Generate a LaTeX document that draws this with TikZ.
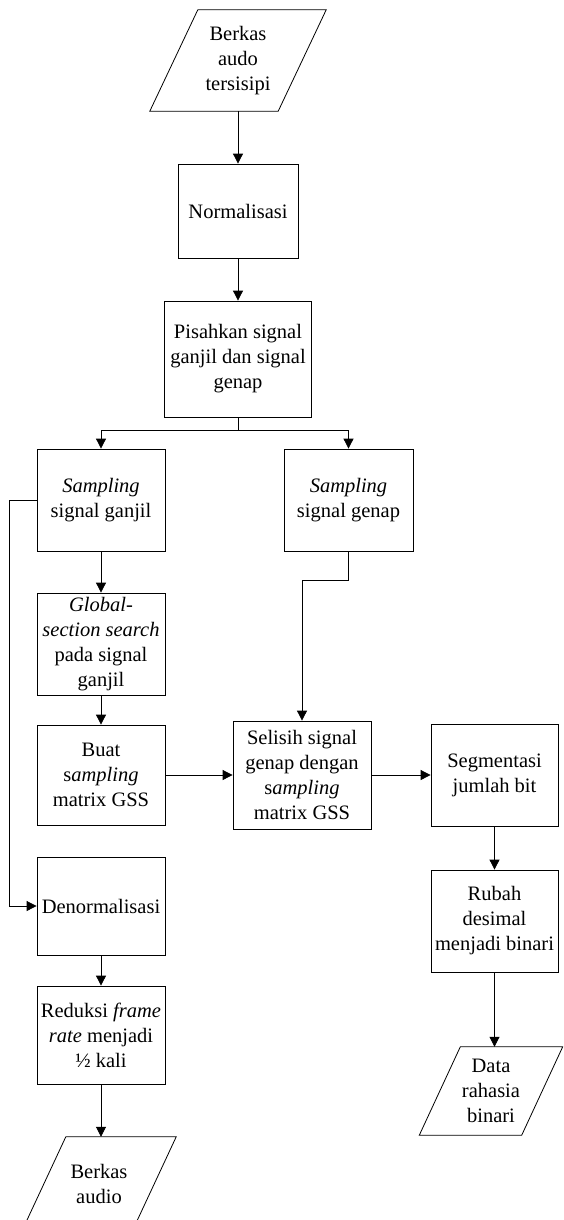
\documentclass[tikz,border=0pt]{standalone}
\usepackage{fontspec}
\setmainfont{Liberation Serif}
\usetikzlibrary{arrows.meta}
\newcommand\parashape[2]{\draw[line width=0.8pt] ([xshift=#2]#1.north west) -- ([xshift=#2]#1.north east) -- ([xshift=-#2]#1.south east) -- ([xshift=-#2]#1.south west) -- cycle;}
\begin{document}
\begin{tikzpicture}[x=1pt,y=-1pt,
  every node/.style={font=\fontsize{20.5}{25}\selectfont, align=center, inner sep=2pt},
  box/.style={draw, line width=0.8pt, rectangle},
  iobox/.style={rectangle},
  arr/.style={line width=0.8pt, -{Triangle[length=10pt,width=10pt]}},
  ln/.style={line width=0.8pt}]
\useasboundingbox (0,0) rectangle (563,1220);
\clip (0,0) rectangle (563,1220);
\fill[white] (0,0) rectangle (563,1220);

\node[iobox, minimum width=128pt, minimum height=101pt] (n1) at (238,60.5) {Berkas\\audo\\tersisipi};
\parashape{n1}{24pt}
\node[box, minimum width=120pt, minimum height=94pt] (n2) at (238,211) {Normalisasi};
\node[box, minimum width=147pt, minimum height=116pt] (n3) at (238,359) {Pisahkan signal\\ganjil dan signal\\genap};
\node[box, minimum width=128pt, minimum height=102pt] (n4) at (101,500) {\textit{Sampling}\\signal ganjil};
\node[box, minimum width=129pt, minimum height=102pt] (n5) at (348.5,500) {\textit{Sampling}\\signal genap};
\node[box, minimum width=128pt, minimum height=102pt] (n6) at (101,644) {\textit{Global-}\\\textit{section search}\\pada signal\\ganjil};
\node[box, minimum width=128pt, minimum height=100pt] (n7) at (101,775) {Buat\\s\textit{ampling}\\matrix GSS};
\node[box, minimum width=128pt, minimum height=98pt] (n8) at (101,906) {Denormalisasi};
\node[box, minimum width=128pt, minimum height=98pt] (n9) at (101,1035) {Reduksi \textit{frame}\\\textit{rate} menjadi\\½ kali};
\node[iobox, minimum width=110pt, minimum height=94pt] (n10) at (99,1184) {Berkas\\audio};
\parashape{n10}{22pt}
\node[box, minimum width=138pt, minimum height=108pt] (n11) at (302,775) {Selisih signal\\genap dengan\\s\textit{ampling}\\matrix GSS};
\node[box, minimum width=127pt, minimum height=102pt] (n12) at (494.5,775) {Segmentasi\\jumlah bit};
\node[box, minimum width=127pt, minimum height=102pt] (n13) at (494.5,921) {Rubah\\desimal\\menjadi binari};
\node[iobox, minimum width=102pt, minimum height=88pt] (n14) at (491,1091) {Data\\rahasia\\binari};
\parashape{n14}{20.5pt}

\coordinate (split) at (238,430);
\coordinate (fb) at (9,500);
\coordinate (bend) at (348.5,580);

\draw[arr] (n1.south) -- (n2.north);
\draw[arr] (n2.south) -- (n3.north);
\draw[ln] (n3.south) -- (split);
\draw[arr] (split) -| (n4.north);
\draw[arr] (split) -| (n5.north);
\draw[arr] (n4.south) -- (n6.north);
\draw[arr] (n6.south) -- (n7.north);
\draw[arr] (n4.west) -- (fb) |- (n8.west);
\draw[arr] (n8.south) -- (n9.north);
\draw[arr] (n9.south) -- (n9.south |- n10.north);
\draw[arr] (n5.south) -- (bend) -| (n11.north);
\draw[arr] (n7.east) -- (n11.west);
\draw[arr] (n11.east) -- (n12.west);
\draw[arr] (n12.south) -- (n13.north);
\draw[arr] (n13.south) -- (n13.south |- n14.north);
\end{tikzpicture}
\end{document}
